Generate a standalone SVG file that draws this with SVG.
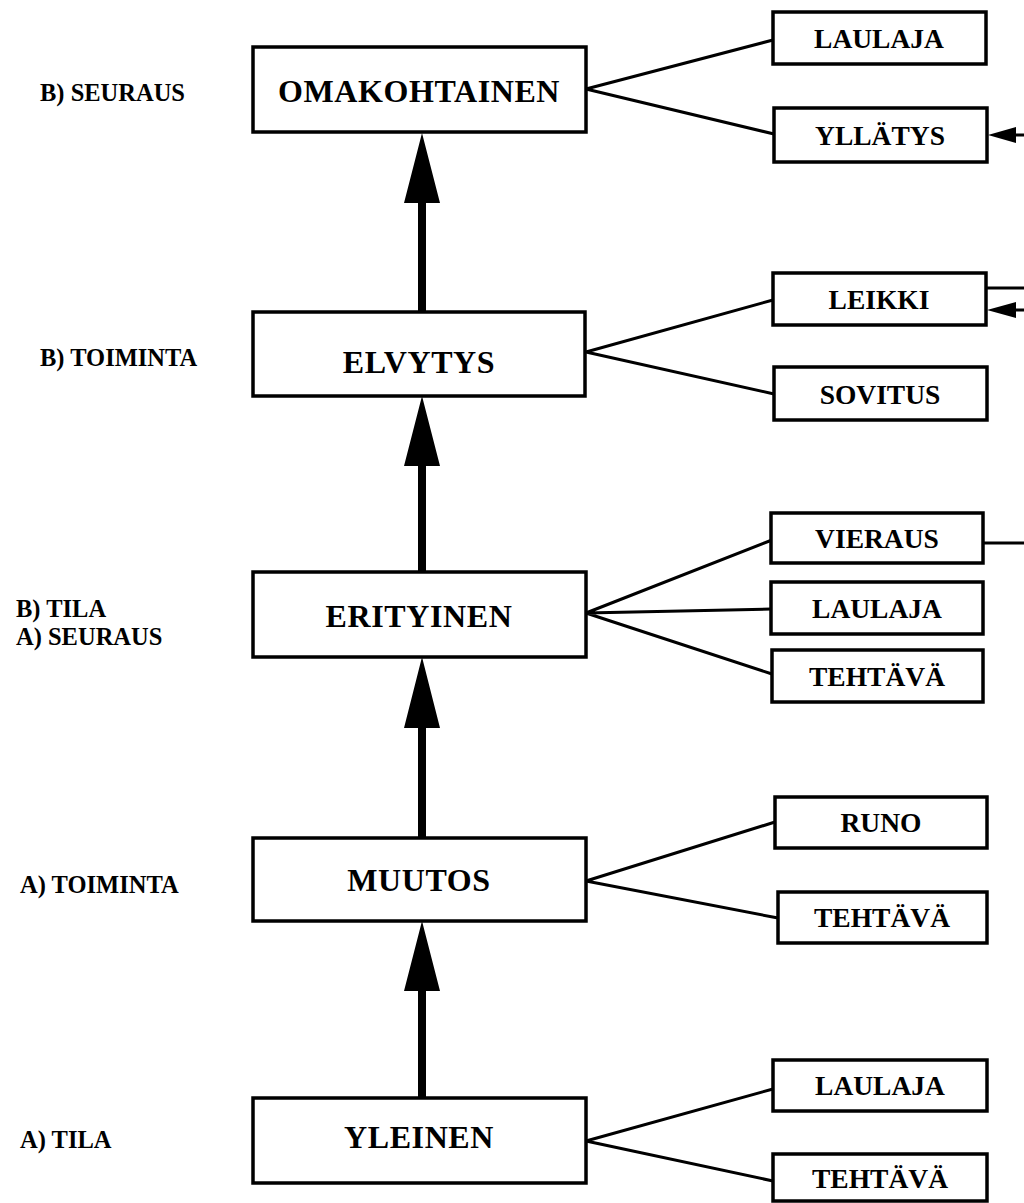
<svg xmlns="http://www.w3.org/2000/svg" width="1024" height="1203" viewBox="0 0 1024 1203">
<style>
.box{fill:#fff;stroke:#000;stroke-width:3.5}
.main{font-family:"Liberation Serif",serif;font-weight:bold;font-size:32px;text-anchor:middle;letter-spacing:0.6px}
.sub{font-family:"Liberation Serif",serif;font-weight:bold;font-size:27.5px;text-anchor:middle}
.lbl{font-family:"Liberation Serif",serif;font-weight:bold;font-size:24.5px}
.ln{stroke:#000;stroke-width:3;fill:none}
.shaft{stroke:#000;stroke-width:8;fill:none}
.head{fill:#000}
</style>
<rect width="1024" height="1203" fill="#fff"/>
<g id="labels">
<text class="lbl" x="40" y="101">B) SEURAUS</text>
<text class="lbl" x="40" y="366">B) TOIMINTA</text>
<text class="lbl" x="16" y="617">B) TILA</text>
<text class="lbl" x="16" y="645">A) SEURAUS</text>
<text class="lbl" x="20" y="893">A) TOIMINTA</text>
<text class="lbl" x="20" y="1148">A) TILA</text>
</g>
<g id="connectors">
<path class="shaft" d="M422 200V312M422 464V572M422 726V838M422 989V1098"/>
<path class="head" d="M422 133L404 203H440Z M422 396L404 466H440Z M422 657L404 728H440Z M422 921L404 991H440Z"/>
<path class="ln" d="M586 89L773 40M586 89L774 134"/>
<path class="ln" d="M586 352L773 300M586 352L774 394"/>
<path class="ln" d="M586 613L772 540M586 613L771 609M586 613L772 674"/>
<path class="ln" d="M586 881L775 822M586 881L778 918"/>
<path class="ln" d="M586 1141L773 1089M586 1141L773 1181"/>
<path class="ln" d="M1012 135H1024M986 288H1024M1012 310H1024M983 543H1024"/>
<path class="head" d="M988 135L1016 127V143Z M987 310L1016 302V318Z"/>
</g>
<g id="n-omakohtainen"><rect class="box" x="253" y="47" width="333" height="85"/><text class="main" x="419" y="102">OMAKOHTAINEN</text></g>
<g id="n-elvytys"><rect class="box" x="253" y="312" width="332" height="84"/><text class="main" x="419" y="373">ELVYTYS</text></g>
<g id="n-erityinen"><rect class="box" x="253" y="572" width="333" height="85"/><text class="main" x="419" y="627">ERITYINEN</text></g>
<g id="n-muutos"><rect class="box" x="253" y="838" width="333" height="83"/><text class="main" x="419" y="891">MUUTOS</text></g>
<g id="n-yleinen"><rect class="box" x="253" y="1098" width="333" height="85"/><text class="main" x="419" y="1148">YLEINEN</text></g>
<g id="n-laulaja1"><rect class="box" x="773" y="12" width="213" height="52"/><text class="sub" x="879" y="48">LAULAJA</text></g>
<g id="n-yllatys"><rect class="box" x="774" y="108" width="213" height="54"/><text class="sub" x="880" y="145">YLLÄTYS</text></g>
<g id="n-leikki"><rect class="box" x="773" y="273" width="213" height="52"/><text class="sub" x="879" y="309">LEIKKI</text></g>
<g id="n-sovitus"><rect class="box" x="774" y="367" width="213" height="53"/><text class="sub" x="880" y="404">SOVITUS</text></g>
<g id="n-vieraus"><rect class="box" x="771" y="513" width="212" height="50"/><text class="sub" x="877" y="548">VIERAUS</text></g>
<g id="n-laulaja2"><rect class="box" x="771" y="582" width="212" height="52"/><text class="sub" x="877" y="618">LAULAJA</text></g>
<g id="n-tehtava1"><rect class="box" x="772" y="650" width="211" height="52"/><text class="sub" x="877" y="686">TEHTÄVÄ</text></g>
<g id="n-runo"><rect class="box" x="775" y="797" width="212" height="51"/><text class="sub" x="881" y="832">RUNO</text></g>
<g id="n-tehtava2"><rect class="box" x="778" y="892" width="209" height="51"/><text class="sub" x="882" y="927">TEHTÄVÄ</text></g>
<g id="n-laulaja3"><rect class="box" x="773" y="1060" width="214" height="51"/><text class="sub" x="880" y="1095">LAULAJA</text></g>
<g id="n-tehtava3"><rect class="box" x="773" y="1154" width="214" height="47"/><text class="sub" x="880" y="1188">TEHTÄVÄ</text></g>
</svg>
